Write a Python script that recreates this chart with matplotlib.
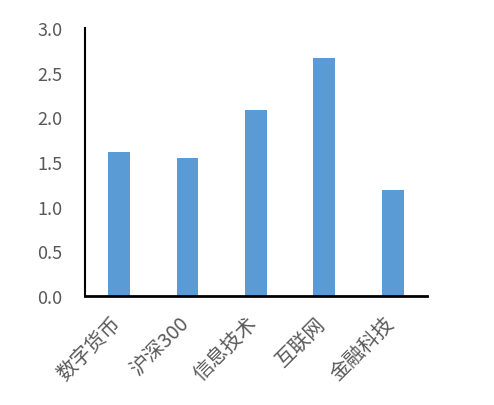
import matplotlib
matplotlib.use('Agg')
import matplotlib.pyplot as plt
import matplotlib.transforms as mtransforms

categories = ['数字货币', '沪深300', '信息技术', '互联网', '金融科技']
values = [1.61, 1.545, 2.08, 2.665, 1.19]
yticks = [0.0, 0.5, 1.0, 1.5, 2.0, 2.5, 3.0]

plt.rcParams['font.family'] = ['Noto Sans CJK SC', 'DejaVu Sans']

fig = plt.figure(figsize=(4.94, 4.06), dpi=100)
ax = fig.add_axes([0.172, 0.268, 0.692, 0.661])

ax.bar(range(len(categories)), values, width=0.32, color='#5b9bd5')

ax.set_xlim(-0.5, len(categories) - 0.5)
ax.set_ylim(0, 3.0)
ax.set_yticks(yticks)
ax.set_yticklabels([f'{t:.1f}' for t in yticks])
ax.set_xticks(range(len(categories)))
ax.set_xticklabels(categories, rotation=45, ha='right', rotation_mode='anchor')

for s in ['top', 'right']:
    ax.spines[s].set_visible(False)
ax.spines['left'].set_linewidth(1.5)
ax.spines['bottom'].set_linewidth(2)
ax.tick_params(axis='y', length=0, pad=16, labelsize=13, labelcolor='#595959')
ax.tick_params(axis='x', length=0, pad=6, labelsize=14.5, labelcolor='#595959')

# nudge x labels left/down to sit like the original
offset = mtransforms.ScaledTranslation(-9 / 100, -8 / 100, fig.dpi_scale_trans)
for lbl in ax.get_xticklabels():
    lbl.set_transform(lbl.get_transform() + offset)

fig.savefig('out.png', dpi=100)
